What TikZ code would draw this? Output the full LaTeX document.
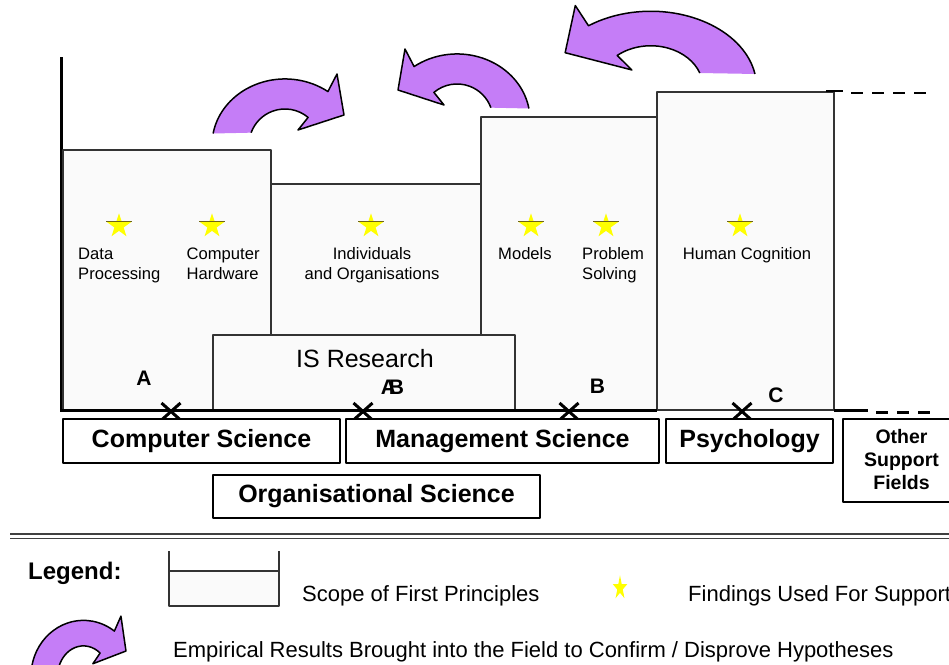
\documentclass[tikz,border=0pt]{standalone}
\usepackage{fontspec}
\setmainfont{Liberation Sans}
\usetikzlibrary{shapes.geometric}
\definecolor{scopefill}{RGB}{250,250,250}
\definecolor{arrowpurple}{RGB}{197,125,247}
\definecolor{staryellow}{RGB}{255,255,0}
\definecolor{starshade}{RGB}{110,100,20}
\newcommand{\arrowoutline}{(-71.9,-11.5) arc[start angle=-170,end angle=-54,x radius=73,y radius=66] -- (52,-71) -- (59,-30) -- (13,-15) -- (23.1,-27.6) arc[start angle=-50,end angle=-160,radius=36]}
\newcommand{\purplearrow}[1]{%
	\begin{scope}[#1]
		\fill[arrowpurple] \arrowoutline -- cycle;
		\draw[line width=1.5pt] \arrowoutline;
	\end{scope}}
\begin{document}
\begin{tikzpicture}[line join=round,x=1pt,y=-1pt,
	scopebox/.style={draw=black!80,line width=1.2pt,fill=scopefill},
	fieldbox/.style={draw=black,line width=1.2pt,fill=white,inner sep=0pt,font=\fontsize{25}{30}\selectfont\bfseries},
	findstar/.style={star,star points=5,star point ratio=2.618,minimum size=25.4pt,inner sep=0pt,fill=staryellow},
	findlabel/.style={inner sep=0pt,font=\fontsize{16.6}{20}\selectfont},
	pointlabel/.style={inner sep=0pt,font=\fontsize{21}{24}\selectfont\bfseries},
	legendtext/.style={inner sep=0pt,anchor=base west,font=\fontsize{22}{26}\selectfont}]
	\useasboundingbox (0,0) rectangle (949,664);
	\clip (0,0) rectangle (949,664);
	%Empirical result arrows
	\purplearrow{shift={(285,145)}}
	\purplearrow{shift={(457,120)},xscale=-1}
	\purplearrow{shift={(650.7,87.2)},xscale=-1.45,yscale=1.15}
	%Vertical axis
	\draw[line width=3pt] (61,57)--(61,411.5);
	%Scope of first principles
	\draw[scopebox] (63,150) rectangle (271,410);
	\draw[scopebox] (271,184) rectangle (481,410);
	\draw[scopebox] (481,117) rectangle (657,410);
	\draw[scopebox] (657,92) rectangle (834,410);
	\draw[scopebox] (213,335) rectangle (515,410);
	\node[inner sep=0pt,anchor=base,font=\fontsize{25}{30}\selectfont] (isr) at (365,367) {IS Research};
	%Baseline
	\draw[line width=3pt] (61,410)--(657,410) (834,410)--(868,410);
	\draw[line width=2.5pt,dash pattern=on 12pt off 9pt] (876,412.5)--(932,412.5);
	\draw[line width=1.5pt] (826,91)--(843,91);
	\draw[line width=2.5pt,dash pattern=on 12pt off 9pt] (851,93)--(928,93);
	%Findings
	\node[findstar] (s1) at (119,226) {};
	\node[findstar] (s2) at (212,226) {};
	\node[findstar] (s3) at (371,226) {};
	\node[findstar] (s4) at (531,226) {};
	\node[findstar] (s5) at (606,226) {};
	\node[findstar] (s6) at (740,226) {};
	\draw[starshade,line width=0.8pt] (s1.outer point 2)--(s1.outer point 5) (s2.outer point 2)--(s2.outer point 5) (s3.outer point 2)--(s3.outer point 5) (s4.outer point 2)--(s4.outer point 5) (s5.outer point 2)--(s5.outer point 5) (s6.outer point 2)--(s6.outer point 5);
	\node[findlabel,anchor=base west,align=left] (dp) at (78,279) {Data\\Processing};
	\node[findlabel,anchor=base west,align=left] (ch) at (186.5,279) {Computer\\Hardware};
	\node[findlabel,anchor=base,align=center] (io) at (372,279) {Individuals\\and Organisations};
	\node[findlabel,anchor=base west] (mo) at (498,259) {Models};
	\node[findlabel,anchor=base west,align=left] (ps) at (582,279) {Problem\\Solving};
	\node[findlabel,anchor=base] (hc) at (747,259) {Human Cognition};
	%Positions A, B, C
	\node[pointlabel,anchor=base] (pA) at (144,385) {A};
	\node[pointlabel,anchor=base] (pAB1) at (388.5,394) {A};
	\node[pointlabel,anchor=base] (pAB2) at (396.5,394) {B};
	\node[pointlabel,anchor=base] (pB) at (597.5,393) {B};
	\node[pointlabel,anchor=base] (pC) at (776,402) {C};
	\draw[line width=3pt] (161.5,403)--(180.5,420) (161.5,420)--(180.5,403)
		(353.5,403)--(372.5,420) (353.5,420)--(372.5,403)
		(559.5,403)--(578.5,420) (559.5,420)--(578.5,403)
		(732.5,403)--(751.5,420) (732.5,420)--(751.5,403);
	%Fields
	\node[fieldbox,minimum width=277pt,minimum height=44pt] (cs) at (201.5,441) {Computer Science};
	\node[fieldbox,minimum width=313pt,minimum height=44pt] (ms) at (502.5,441) {Management Science};
	\node[fieldbox,minimum width=167pt,minimum height=44pt] (psy) at (749.5,441) {Psychology};
	\node[fieldbox,minimum width=327pt,minimum height=43pt] (os) at (376.5,496.5) {Organisational Science};
	\draw[line width=1.2pt] (955,419)--(843,419)--(843,502)--(955,502);
	\node[inner sep=0pt,align=center,font=\fontsize{19.5}{23}\selectfont\bfseries] (osf) at (901.5,460) {Other\\Support\\Fields};
	%Legend
	\draw[black!75,line width=2.5pt] (10,534)--(955,534);
	\draw[black!75,line width=1pt] (10,538.5)--(955,538.5);
	\node[legendtext,font=\fontsize{24}{28}\selectfont\bfseries] (leg) at (28,579) {Legend:};
	\fill[scopefill] (169,571) rectangle (279,606);
	\draw[black!80,line width=1.2pt] (169,551)--(169,606)--(279,606)--(279,551) (169,571)--(279,571);
	\node[legendtext] (lscope) at (302,601) {Scope of First Principles};
	\node[findstar,xscale=0.6] (ls) at (620,588) {};
	\node[legendtext] (lfind) at (688,601) {Findings Used For Support};
	\purplearrow{shift={(83.5,676.5)},xscale=0.72,yscale=0.85}
	\node[legendtext] (lemp) at (173,657) {Empirical Results Brought into the Field to Confirm / Disprove Hypotheses};
\end{tikzpicture}
\end{document}
